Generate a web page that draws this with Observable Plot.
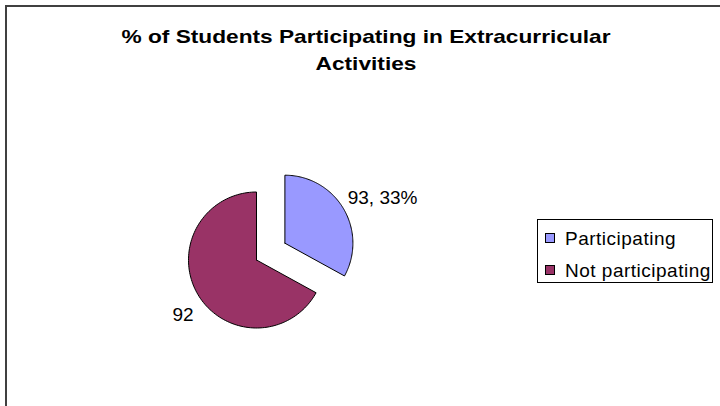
<!DOCTYPE html>
<html>
<head>
<meta charset="utf-8">
<script src="https://cdn.jsdelivr.net/npm/d3@7"></script>
<script src="https://cdn.jsdelivr.net/npm/@observablehq/plot@0.6"></script>
<style>
  html, body { margin: 0; padding: 0; background: #fff; }
  body { width: 720px; height: 406px; position: relative; overflow: hidden; font-family: "Liberation Sans", Arial, sans-serif; }
  #frame { position: absolute; left: 5px; top: 5px; width: 720px; height: 410px; border-left: 2px solid #404040; border-top: 2px solid #404040; box-sizing: border-box; }
  #chart { position: absolute; left: 0; top: 0; }
  #title { position: absolute; left: 0; top: 23px; width: 732px; text-align: center; font-weight: bold; font-size: 18.6px; line-height: 27px; color: #000; transform: scaleX(1.22); transform-origin: 366px 0; white-space: nowrap; }
  #legend { position: absolute; left: 537px; top: 219px; width: 176px; height: 64px; border: 1px solid #000; box-sizing: border-box; background: #fff; }
  .item { position: absolute; left: 7px; height: 20px; font-size: 19px; letter-spacing: 0.5px; line-height: 20px; white-space: nowrap; }
  .sw { position: absolute; left: 0; top: 4px; width: 10px; height: 10px; border: 1px solid #000; box-sizing: border-box; }
  .lab { position: absolute; left: 20px; top: 0; }
</style>
</head>
<body>
<div id="chart"></div>
<div id="frame"></div>
<div id="title"></div>
<div id="legend"></div>
<script>
// ---- data ----
const titleLines = ["% of Students Participating in Extracurricular", "Activities"];
const categories = ["Participating", "Not participating"];
const shares = [33, 67];              // percent of students
const sliceLabels = ["93, 33%", "92"]; // data labels as shown
const colors = ["#9999FF", "#993366"];
const exploded = [true, false];

// ---- layout ----
const W = 720, H = 406;
const cx = 256, cy = 259.5, r = 68, explode = 33;

const arcs = d3.pie().sort(null).value(d => d)(shares);
const polys = [];
const labelPts = [];
arcs.forEach((a, i) => {
  const mid = (a.startAngle + a.endAngle) / 2;
  const ox = cx + (exploded[i] ? explode * Math.sin(mid) : 0);
  const oy = cy - (exploded[i] ? explode * Math.cos(mid) : 0);
  const n = 120;
  polys.push({cat: categories[i], x: ox, y: oy});
  for (let k = 0; k <= n; k++) {
    const t = a.startAngle + (a.endAngle - a.startAngle) * k / n;
    polys.push({cat: categories[i], x: ox + r * Math.sin(t), y: oy - r * Math.cos(t)});
  }
  polys.push({cat: categories[i], x: ox, y: oy});
  const R = r + 5;
  labelPts.push({cat: categories[i], text: sliceLabels[i], right: Math.sin(mid) > 0,
                 x: ox + R * Math.sin(mid), y: oy - R * Math.cos(mid)});
});

const color = {domain: categories, range: colors};

const chart = Plot.plot({
  width: W, height: H,
  margin: 0,
  x: {domain: [0, W], range: [0, W], axis: null},
  y: {domain: [0, H], range: [0, H], axis: null},
  color,
  style: {fontFamily: "'Liberation Sans', Arial, sans-serif", background: "transparent"},
  marks: [
    Plot.line(polys, {x: "x", y: "y", z: "cat", fill: "cat", stroke: "#000", strokeWidth: 1, curve: "linear"}),
    Plot.text(labelPts.filter(d => d.right), {x: "x", y: "y", text: "text", textAnchor: "start", lineAnchor: "middle", dy: -8.5, fontSize: 19, fill: "#000"}),
    Plot.text(labelPts.filter(d => !d.right), {x: "x", y: "y", text: "text", textAnchor: "end", lineAnchor: "middle", dy: 18, fontSize: 19, fill: "#000"})
  ]
});
document.getElementById("chart").appendChild(chart);

// title
document.getElementById("title").innerHTML = titleLines.join("<br>");

// legend
const leg = document.getElementById("legend");
categories.forEach((c, i) => {
  const it = document.createElement("div");
  it.className = "item";
  it.style.top = (9 + i * 32) + "px";
  it.innerHTML = `<div class="sw" style="background:${colors[i]}"></div><span class="lab">${c}</span>`;
  leg.appendChild(it);
});
</script>
</body>
</html>
